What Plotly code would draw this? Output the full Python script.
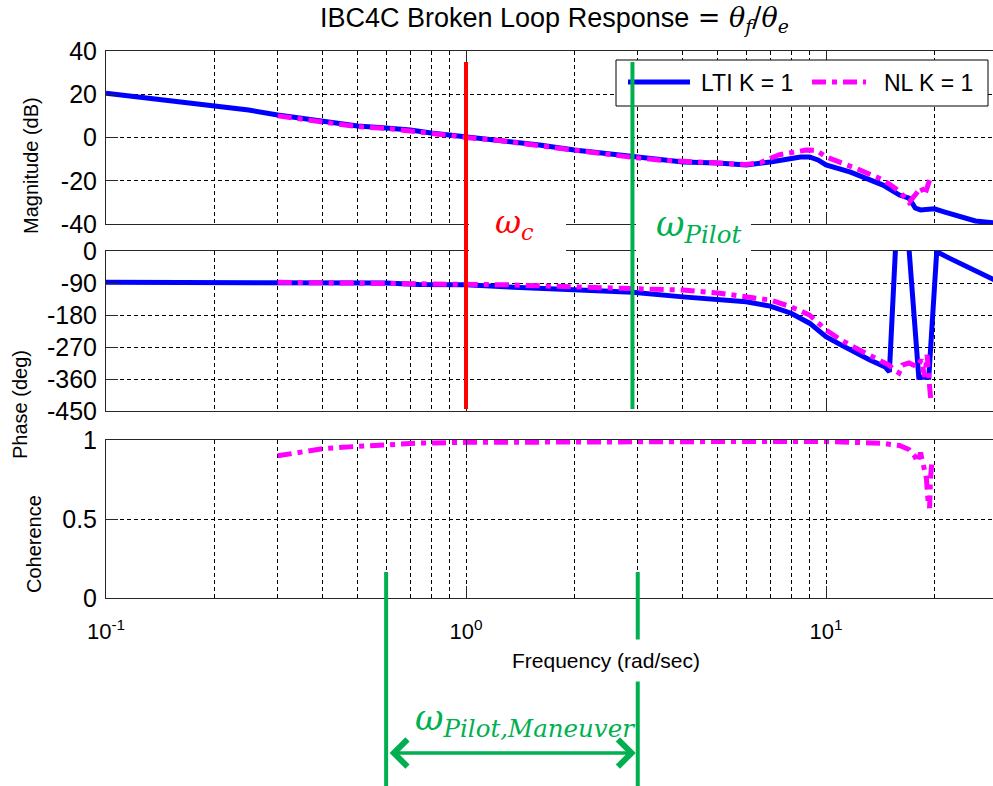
import math
import plotly.graph_objects as go
from plotly.subplots import make_subplots

# ---------------- data ----------------
# LTI (K = 1) broken-loop magnitude, dB
lti_mag_freq = [0.1, 0.15, 0.2, 0.249, 0.3, 0.4, 0.5, 0.6, 0.7, 0.8, 0.9, 1.0, 1.24, 1.6,
                2.0, 2.35, 2.9, 4.0, 5.0, 6.0, 7.0, 8.0, 8.5, 9.0, 9.5, 10.0, 11.7, 14.4,
                16.0, 17.0, 17.7, 18.3, 20.0, 21.4, 23.6, 26.0, 29.3]
lti_mag = [20.5, 17.0, 14.6, 12.7, 10.4, 7.2, 5.3, 4.4, 3.5, 2.1, 1.2, 0.2, -1.1, -3.5,
           -5.8, -7.2, -9.0, -11.3, -11.8, -12.7, -11.3, -9.5, -9.0, -9.0, -10.4, -12.7, -16.0, -22.0,
           -26.6, -28.0, -32.6, -33.5, -33.0, -34.5, -36.8, -38.6, -39.5]

# LTI phase, deg
lti_ph_freq = [0.1, 0.2, 0.3, 0.4, 0.6, 0.74, 1.0, 1.24, 1.6, 2.0, 2.35, 2.9, 4.0, 5.0,
               6.0, 7.0, 8.0, 9.0, 10.0, 11.0, 12.1, 13.2, 14.6, 15.0, 15.6, 16.5, 17.0,
               18.1, 19.3, 20.3, 22.0, 25.0, 29.3]
lti_phase = [-88, -88, -88, -90, -90, -94, -95, -100, -104, -110, -112, -116, -129, -135,
             -143, -155, -175, -203, -241, -264, -287, -306, -326, -340, 8, 12, 8,
             -355, -355, -2, -20, -49, -81]

# Nonlinear sim (K = 1) magnitude, dB
nl_mag_freq = [0.3, 0.4, 0.5, 0.6, 0.7, 0.8, 0.9, 1.0, 1.24, 1.6, 2.0, 2.35, 2.9, 3.5,
               4.0, 5.0, 6.0, 6.6, 7.4, 8.0, 8.8, 9.4, 9.8, 10.0, 12.0, 14.0, 15.0, 16.0,
               16.5, 17.0, 17.4, 17.9, 18.4, 18.8, 19.1, 19.4]
nl_mag = [10.0, 7.0, 5.0, 4.2, 3.2, 2.0, 1.0, 0.0, -1.4, -3.8, -6.0, -7.5, -9.2, -10.5,
          -11.2, -11.8, -12.5, -11.5, -8.0, -7.2, -5.8, -5.9, -8.0, -9.0, -14.0, -18.7, -21.5, -25.0,
          -27.5, -30.0, -28.0, -25.6, -23.0, -26.6, -22.0, -19.7]

# Nonlinear sim phase, deg
nl_ph_freq = [0.3, 0.4, 0.6, 0.8, 1.0, 1.3, 1.6, 2.0, 2.5, 2.9, 3.5, 4.0, 5.0, 6.0,
              7.0, 8.0, 9.0, 10.0, 11.0, 12.1, 13.2, 14.6, 14.96, 15.5, 15.95, 16.3, 17.0,
              17.9, 18.4, 18.8, 19.1, 19.4, 19.6]
nl_phase = [-88, -89, -90, -91, -92, -95, -98, -101, -104, -105, -108, -110, -118, -127,
            -138, -157, -180, -222, -250, -273, -292, -315, -321, -335, -343, -321, -315,
            -326, -306, -354, -292, -382, -430]

# Nonlinear sim coherence
coh_freq = [0.3, 0.34, 0.4, 0.5, 0.6, 0.74, 1.0, 2.0, 5.0, 10.0, 12.0, 14.2, 16.0, 17.0,
            17.6, 18.0, 18.3, 18.7, 19.0, 19.2, 19.4, 19.5, 19.6, 19.7]
coherence = [0.90, 0.92, 0.945, 0.96, 0.972, 0.98, 0.985, 0.99, 0.99, 0.99, 0.985, 0.98, 0.965, 0.94,
             0.90, 0.86, 0.92, 0.83, 0.76, 0.62, 0.57, 0.75, 0.82, 0.87]

# frequencies marked on the chart (rad/sec)
w_c = 1.0
w_pilot = 2.9
w_maneuver = [0.6, 3.0]

x_ticks = [0.1, 1, 10]
x_ticktext = ["10<sup>-1</sup>", "10<sup>0</sup>", "10<sup>1</sup>"]
x_minor = [0.2, 0.3, 0.4, 0.5, 0.6, 0.7, 0.8, 0.9, 2, 3, 4, 5, 6, 7, 8, 9, 20]
mag_ticks = [40, 20, 0, -20, -40]
phase_ticks = [0, -90, -180, -270, -360, -450]
coh_ticks = [1, 0.5, 0]

# ---------------- layout helpers ----------------
W, H = 993, 786
L = 106


def px(x):
    return (x - L) / (W - L)


def py(y):
    return 1 - y / H


BLUE = "#0000FF"
MAGENTA = "#FF00FF"
RED = "#FF0000"
GREEN = "#00B050"
AXC = "#262626"
SANS = "Liberation Sans, Arial, sans-serif"
SERIF = "DejaVu Serif, serif"
NL_DASH = "14px,6px,5px,6px"
GRID_DASH = "4px,3px"

fig = make_subplots(rows=3, cols=1)

fig.add_trace(go.Scatter(x=lti_mag_freq, y=lti_mag, mode="lines", name="LTI K = 1",
                         line=dict(color=BLUE, width=5), showlegend=False), row=1, col=1)
fig.add_trace(go.Scatter(x=nl_mag_freq, y=nl_mag, mode="lines", name="NL K = 1",
                         line=dict(color=MAGENTA, width=5, dash=NL_DASH), showlegend=False), row=1, col=1)
fig.add_trace(go.Scatter(x=lti_ph_freq, y=lti_phase, mode="lines", name="LTI K = 1",
                         line=dict(color=BLUE, width=5), showlegend=False), row=2, col=1)
fig.add_trace(go.Scatter(x=nl_ph_freq, y=nl_phase, mode="lines", name="NL K = 1",
                         line=dict(color=MAGENTA, width=5, dash=NL_DASH), showlegend=False), row=2, col=1)
fig.add_trace(go.Scatter(x=coh_freq, y=coherence, mode="lines", name="NL K = 1",
                         line=dict(color=MAGENTA, width=5, dash=NL_DASH), showlegend=False), row=3, col=1)

xcommon = dict(type="log", range=[-1, math.log10(29.1)], automargin=False,
               tickvals=x_ticks, ticktext=x_ticktext,
               ticks="inside", ticklen=12, tickcolor=AXC, tickwidth=1,
               showline=True, linecolor=AXC, linewidth=1, mirror="ticks",
               showgrid=True, gridcolor="black", gridwidth=1, griddash=GRID_DASH,
               minor=dict(tickvals=x_minor, showgrid=True, gridcolor="black",
                          gridwidth=1, griddash=GRID_DASH, ticks=""),
               zeroline=False, tickfont=dict(family=SANS, size=22, color="black"))
ycommon = dict(ticks="inside", ticklen=12, tickcolor=AXC, tickwidth=1, automargin=False,
               showline=True, linecolor=AXC, linewidth=1, mirror=False,
               showgrid=True, gridcolor="black", gridwidth=1, griddash=GRID_DASH,
               zeroline=False, tickfont=dict(family=SANS, size=25, color="black"),
               ticklabelstandoff=3)

fig.update_layout(
    xaxis=dict(xcommon, domain=[0, 1], showticklabels=False),
    xaxis2=dict(xcommon, domain=[0, 1], showticklabels=False, matches="x"),
    xaxis3=dict(xcommon, domain=[0, 1], showticklabels=True, matches="x", ticklabelstandoff=14),
    yaxis=dict(ycommon, domain=[py(224), py(51)], range=[-40, 40],
               tickvals=mag_ticks, ticktext=[str(v) for v in mag_ticks]),
    yaxis2=dict(ycommon, domain=[py(411), py(251)], range=[-450, 0],
                tickvals=phase_ticks, ticktext=[str(v) for v in phase_ticks]),
    yaxis3=dict(ycommon, domain=[py(598), py(440)], range=[0, 1],
                tickvals=coh_ticks, ticktext=["1", "0.5", "0"]),
    width=W, height=H,
    margin=dict(l=L, r=0, t=0, b=0, pad=0, autoexpand=False),
    paper_bgcolor="white", plot_bgcolor="white",
    showlegend=False,
)

shapes = []
# white text boxes behind the frequency labels
for x0, x1 in [(469, 566), (636, 751)]:
    shapes.append(dict(type="rect", xref="paper", yref="paper",
                       x0=px(x0), x1=px(x1), y0=py(258), y1=py(187),
                       fillcolor="white", line=dict(width=0), layer="above"))
# legend frame and samples
shapes.append(dict(type="rect", xref="paper", yref="paper",
                   x0=px(616), x1=px(988), y0=py(106), y1=py(60),
                   fillcolor="white", line=dict(color="black", width=1), layer="above"))
shapes.append(dict(type="line", xref="paper", yref="paper",
                   x0=px(628), x1=px(690), y0=py(82), y1=py(82),
                   line=dict(color=BLUE, width=5), layer="above"))
shapes.append(dict(type="line", xref="paper", yref="paper",
                   x0=px(812), x1=px(866), y0=py(82), y1=py(82),
                   line=dict(color=MAGENTA, width=5, dash=NL_DASH), layer="above"))
# crossover and pilot-bandwidth markers
shapes.append(dict(type="line", xref="x", yref="paper", x0=w_c, x1=w_c,
                   y0=py(409), y1=py(62), line=dict(color=RED, width=4), layer="above"))
shapes.append(dict(type="line", xref="x", yref="paper", x0=w_pilot, x1=w_pilot,
                   y0=py(409), y1=py(62), line=dict(color=GREEN, width=4), layer="above"))
for wm in w_maneuver:
    shapes.append(dict(type="line", xref="x3", yref="paper", x0=wm, x1=wm,
                       y0=-0.01, y1=py(572), line=dict(color=GREEN, width=4), layer="above"))
fig.update_layout(shapes=shapes)


def label(x, y, text, size, color="black", family=SANS, **kw):
    d = dict(xref="paper", yref="paper", x=px(x), y=py(y), showarrow=False,
             xanchor="center", yanchor="middle", text=text,
             font=dict(family=family, size=size, color=color))
    d.update(kw)
    return d


ann = [
    label(554, 19, 'IBC4C Broken Loop Response<span style="font-family:DejaVu Serif">'
                   ' = <i>θ</i><sub><i>f</i></sub>/<i>θ</i><sub><i>e</i></sub></span>', 27),
    label(31, 166, "Magnitude (dB)", 20, textangle=-90),
    label(20, 405, "Phase (deg)", 20, textangle=-90),
    label(34, 544, "Coherence", 20, textangle=-90),
    label(606, 660, "Frequency (rad/sec)", 21, bgcolor="white", borderpad=9),
    # legend entries
    label(699, 83, "LTI K = 1", 23, xanchor="left"),
    label(882, 83, "NL K = 1", 23, xanchor="left"),
    # frequency labels
    label(514, 224, "<i>ω</i><sub><i>c</i></sub>", 32, RED, SERIF),
    label(654, 226, "<i>ω</i><sub><i>Pilot</i></sub>", 35, GREEN, SERIF, xanchor="left"),
    label(525, 720, "<i>ω</i><sub><i>Pilot,Maneuver</i></sub>", 35, GREEN, SERIF),
]
# maneuver band double arrow
ann.append(dict(xref="x3", yref="paper", x=math.log10(w_maneuver[1]), y=py(753),
                axref="x3", ax=math.log10(w_maneuver[0]), ayref="pixel", ay=0,
                text="", showarrow=True, arrowside="end+start",
                arrowhead=4, startarrowhead=4, arrowsize=1.5, startarrowsize=1.5,
                arrowwidth=3.5, arrowcolor=GREEN, standoff=2, startstandoff=2))
fig.update_layout(annotations=ann)

fig.write_html("out.html")
